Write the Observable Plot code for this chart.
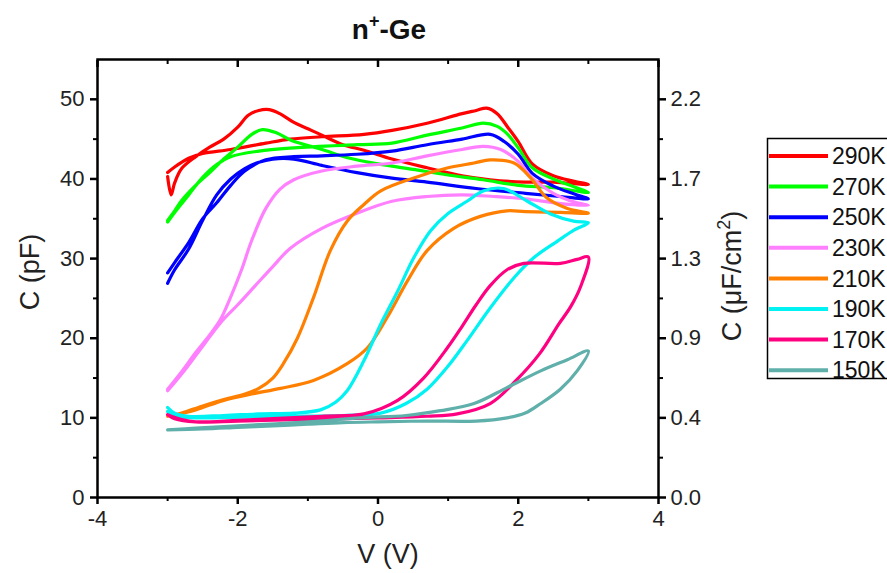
<!DOCTYPE html>
<html>
<head>
<meta charset="utf-8">
<script src="https://cdn.jsdelivr.net/npm/d3@7"></script>
<script src="https://cdn.jsdelivr.net/npm/@observablehq/plot@0.6"></script>
<style>
  body { margin: 0; background: #fff; }
  #chart { width: 887px; height: 573px; }
</style>
</head>
<body>
<div id="chart"></div>
<script>
// ---- Data (V in volts, C in pF), each loop: forward sweep -3 -> 3 then back 3 -> -3 ----
const temps = ["290K", "270K", "250K", "230K", "210K", "190K", "170K", "150K"];
const colors = ["#ff0000", "#00ff00", "#0000ff", "#ff80ff", "#ff8000", "#00f2f2", "#ff0080", "#5fafaa"];

const loop290 = [[-3.0,40.3],[-2.95,38.0],[-2.9,39.5],[-2.8,41.3],[-2.6,42.8],[-2.4,44.0],[-2.2,45.0],[-2.0,46.5],[-1.85,48.0],[-1.7,48.6],[-1.55,48.7],[-1.4,48.2],[-1.2,47.1],[-1.0,46.3],[-0.8,45.5],[-0.5,44.3],[-0.2,43.6],[0.2,42.5],[0.7,41.4],[1.2,40.4],[1.6,39.9],[2.1,39.6],[2.5,39.6],[3.0,39.3],
  [2.8,39.7],[2.5,40.4],[2.2,41.9],[2.0,44.7],[1.85,46.5],[1.7,48.2],[1.55,48.9],[1.4,48.6],[1.2,48.2],[0.7,47.0],[0.2,46.1],[-0.2,45.6],[-0.8,45.3],[-1.25,45.0],[-1.6,44.5],[-2.1,43.7],[-2.5,43.2],[-2.7,42.6],[-2.9,41.5],[-3.0,40.8]];
const loop270 = [[-3.0,34.8],[-2.9,36.0],[-2.8,37.3],[-2.6,39.2],[-2.4,40.8],[-2.2,42.5],[-2.0,44.0],[-1.8,45.6],[-1.65,46.2],[-1.45,45.8],[-1.25,44.9],[-1.0,44.2],[-0.8,43.7],[-0.4,42.6],[0.0,41.9],[0.5,41.2],[1.0,40.5],[1.5,39.9],[2.0,39.2],[2.5,38.9],[3.0,38.3],
  [2.8,39.0],[2.5,40.0],[2.2,41.4],[2.0,43.9],[1.85,45.6],[1.7,46.6],[1.5,47.0],[1.2,46.4],[0.7,45.5],[0.2,44.5],[-0.3,44.3],[-1.2,43.9],[-1.7,43.5],[-2.1,42.8],[-2.3,41.8],[-2.5,40.2],[-2.7,38.0],[-2.9,35.8],[-3.0,34.6]];
const loop250 = [[-3.0,26.9],[-2.9,28.6],[-2.7,31.2],[-2.5,34.8],[-2.3,38.0],[-2.1,40.0],[-1.9,41.3],[-1.7,42.1],[-1.5,42.5],[-1.2,42.5],[-0.8,41.7],[-0.3,40.8],[0.2,40.1],[0.7,39.6],[1.4,38.8],[2.1,38.2],[2.6,37.8],[3.0,37.5],
  [2.8,38.1],[2.5,39.1],[2.2,40.7],[2.0,43.1],[1.8,44.7],[1.6,45.6],[1.2,45.0],[0.7,44.3],[0.2,43.5],[-0.3,43.1],[-0.8,42.9],[-1.2,42.8],[-1.6,42.4],[-1.9,41.0],[-2.1,39.2],[-2.3,37.0],[-2.5,35.0],[-2.7,32.0],[-2.9,29.5],[-3.0,28.2]];
const loop230 = [[-3.0,13.6],[-2.8,15.8],[-2.6,18.2],[-2.4,20.4],[-2.25,22.3],[-2.1,25.2],[-1.95,28.5],[-1.8,32.3],[-1.6,36.3],[-1.4,38.7],[-1.2,39.9],[-0.8,41.0],[-0.3,41.6],[0.2,42.0],[0.7,42.9],[1.2,43.7],[1.5,44.1],[1.75,43.7],[2.0,42.2],[2.2,40.1],[2.5,38.2],[2.8,37.1],[3.0,36.7],
  [2.6,36.9],[2.1,37.5],[1.65,37.8],[1.2,38.0],[0.7,37.8],[0.2,37.2],[-0.3,35.7],[-0.8,33.8],[-1.25,31.3],[-1.5,29.0],[-1.75,26.6],[-2.0,24.2],[-2.25,21.9],[-2.5,19.0],[-2.8,15.5],[-3.0,13.4]];
const loop210 = [[-3.0,10.2],[-2.8,10.6],[-2.5,11.5],[-2.2,12.3],[-1.9,13.0],[-1.7,13.7],[-1.5,15.0],[-1.35,16.8],[-1.15,20.0],[-0.92,25.1],[-0.68,31.0],[-0.44,34.7],[-0.2,36.8],[0.04,38.5],[0.5,40.1],[1.0,41.4],[1.37,42.0],[1.6,42.4],[1.94,42.0],[2.18,40.1],[2.41,37.6],[2.7,36.3],[3.0,35.7],
  [2.6,35.8],[2.1,35.9],[1.84,36.0],[1.46,35.3],[1.08,33.8],[0.7,31.0],[0.42,27.2],[0.13,22.6],[-0.15,18.8],[-0.44,16.8],[-0.92,14.7],[-1.39,13.7],[-1.8,13.0],[-2.2,12.2],[-2.6,11.0],[-3.0,10.2]];
const loop190 = [[-3.0,11.3],[-2.9,10.6],[-2.7,10.2],[-2.2,10.3],[-1.7,10.5],[-1.2,10.6],[-0.82,11.0],[-0.6,12.0],[-0.44,13.4],[-0.2,17.2],[0.04,21.8],[0.28,25.9],[0.51,30.1],[0.75,33.5],[0.99,35.6],[1.27,37.2],[1.5,38.5],[1.79,38.8],[2.13,37.2],[2.46,35.6],[2.79,34.7],[3.0,34.5],
  [2.8,33.6],[2.56,32.2],[2.22,30.1],[1.94,27.6],[1.6,23.8],[1.27,19.7],[1.0,16.5],[0.7,13.6],[0.4,11.8],[0.04,10.6],[-0.5,10.3],[-1.5,10.2],[-2.5,10.0],[-2.9,10.2],[-3.0,10.8]];
const loop170 = [[-3.0,10.4],[-2.8,9.8],[-2.6,9.5],[-2.0,9.7],[-1.5,9.9],[-0.8,10.2],[-0.2,10.5],[0.28,12.2],[0.65,15.0],[0.99,18.8],[1.2,21.5],[1.4,24.2],[1.6,26.6],[1.84,28.6],[2.08,29.4],[2.6,29.4],[2.84,29.9],[3.0,30.2],
  [2.89,26.5],[2.75,24.0],[2.58,21.8],[2.3,18.0],[1.98,14.8],[1.6,11.8],[1.13,10.5],[0.7,10.2],[0.0,10.0],[-1.0,9.8],[-2.0,9.6],[-2.6,9.5],[-2.9,9.9],[-3.0,10.4]];
const loop150 = [[-3.0,8.5],[-2.5,8.6],[-2.0,8.8],[-1.5,9.0],[-1.0,9.2],[-0.5,9.4],[0.0,9.5],[0.7,9.6],[1.4,9.6],[1.84,10.0],[2.1,10.6],[2.32,11.8],[2.6,13.6],[2.84,15.9],[3.0,18.4],
  [2.7,17.3],[2.32,15.9],[1.84,13.8],[1.37,11.8],[0.89,10.9],[0.4,10.3],[-0.25,10.0],[-1.0,9.5],[-2.0,9.0],[-2.6,8.7],[-3.0,8.5]];
const loops = [loop290, loop270, loop250, loop230, loop210, loop190, loop170, loop150];

// Axis ticks
const xMajor = [-4, -2, 0, 2, 4];
const xMinor = [-3, -1, 1, 3];
const yMajor = [0, 10, 20, 30, 40, 50];
const yMinor = [5, 15, 25, 35, 45];
const rightLabels = ["0.0", "0.4", "0.9", "1.3", "1.7", "2.2"];

const rows = temps.flatMap((t, k) => loops[k].map(([V, C], i) => ({T: t, V, C, i})));

const font = "'Liberation Sans', Arial, sans-serif";
const W = 887, H = 573;
const mL = 97, mR = 229, mT = 59, mB = 76;

const plot = Plot.plot({
  width: W, height: H,
  marginLeft: mL, marginRight: mR, marginTop: mT, marginBottom: mB,
  style: {fontFamily: font, fontSize: "22px", color: "#222", background: "#fff"},
  x: {domain: [-4, 4]},
  y: {domain: [0, 55]},
  color: {domain: temps, range: colors},
  marks: [
    Plot.line(rows, {x: "V", y: "C", z: "T", stroke: "T", strokeWidth: 3.2, curve: "catmull-rom", strokeLinejoin: "round", strokeLinecap: "round"}),
    Plot.frame({stroke: "#000", strokeWidth: 2.5}),
    // bottom axis
    Plot.axisX({anchor: "bottom", ticks: xMajor, tickSize: 7, tickPadding: 6, strokeWidth: 2.5, stroke: "#000", tickFormat: d => String(d).replace("−", "-"), label: null, fill: "#222"}),
    Plot.axisX({anchor: "bottom", ticks: xMinor, tickSize: 4, strokeWidth: 2, stroke: "#000", text: null, label: null}),
    // top axis (inward)
    Plot.axisX({anchor: "top", ticks: xMajor, tickSize: -7, strokeWidth: 2.5, stroke: "#000", text: null, label: null}),
    Plot.axisX({anchor: "top", ticks: xMinor, tickSize: -4, strokeWidth: 2, stroke: "#000", text: null, label: null}),
    // left axis
    Plot.axisY({anchor: "left", ticks: yMajor, tickSize: 7, tickPadding: 6, strokeWidth: 2.5, stroke: "#000", label: null, fill: "#222"}),
    Plot.axisY({anchor: "left", ticks: yMinor, tickSize: 4, strokeWidth: 2, stroke: "#000", text: null, label: null}),
    // right axis
    Plot.axisY({anchor: "right", ticks: yMajor, tickSize: 7, tickPadding: 5, strokeWidth: 2.5, stroke: "#000", label: null, fill: "#222",
      tickFormat: d => rightLabels[yMajor.indexOf(d)]}),
    Plot.axisY({anchor: "right", ticks: yMinor, tickSize: 4, strokeWidth: 2, stroke: "#000", text: null, label: null})
  ]
});

document.getElementById("chart").appendChild(plot);

// ---- Extra text: title, axis titles, legend ----
const svg = d3.select(plot);
const g = svg.append("g").attr("font-family", font).attr("fill", "#111");

const title = g.append("text").attr("x", 389).attr("y", 39).attr("text-anchor", "middle")
  .attr("font-size", 28).attr("font-weight", "bold");
title.append("tspan").text("n");
title.append("tspan").attr("font-size", 18).attr("dy", -12).text("+");
title.append("tspan").attr("dy", 12).text("-Ge");

g.append("text").attr("transform", "translate(39,272) rotate(-90)").attr("text-anchor", "middle")
  .attr("font-size", 27).attr("fill", "#222").text("C (pF)");

g.append("text").attr("x", 388).attr("y", 563).attr("text-anchor", "middle")
  .attr("font-size", 27).attr("fill", "#222").text("V (V)");

const rl = g.append("text").attr("transform", "translate(741,276) rotate(-90)").attr("text-anchor", "middle")
  .attr("font-size", 27).attr("fill", "#222");
rl.append("tspan").text("C (\u03BCF/cm");
rl.append("tspan").attr("font-size", 18).attr("dy", -11).text("2");
rl.append("tspan").attr("dy", 11).text(")");

// legend
const lg = svg.append("g").attr("font-family", font).attr("text-anchor", "start");
lg.append("rect").attr("x", 767.5).attr("y", 138.5).attr("width", 140).attr("height", 240)
  .attr("fill", "#fff").attr("stroke", "#000").attr("stroke-width", 1.5);
temps.forEach((t, k) => {
  const y = 156 + k * 30.6;
  lg.append("line").attr("x1", 769).attr("x2", 828).attr("y1", y).attr("y2", y)
    .attr("stroke", colors[k]).attr("stroke-width", 4);
  lg.append("text").attr("x", 832).attr("y", y).attr("dy", "0.36em").attr("font-size", 23)
    .attr("text-anchor", "start").attr("fill", "#111").text(t);
});
</script>
</body>
</html>
